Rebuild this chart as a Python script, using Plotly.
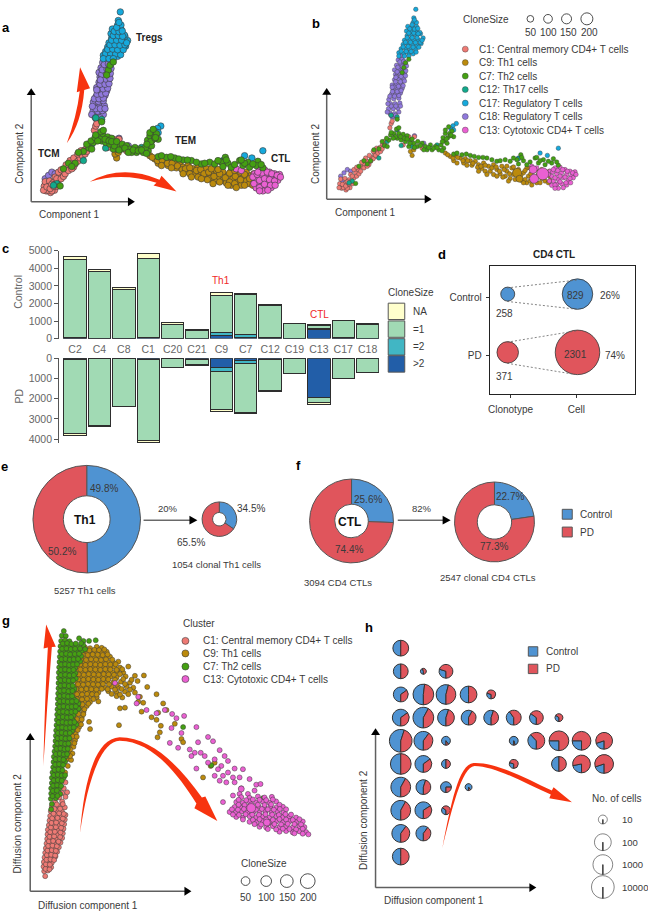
import plotly.graph_objects as go

W, H = 648, 917
FONT = "Liberation Sans"
TXT = "#3a3a3a"
GREY = "#5f5f5f"
COL = dict(C1="#ee7a74", C9="#bb8a0c", C7="#44a012", C12="#12a98c", C17="#16a9dc", C18="#9079dc", C13="#ea60d2")
CTRL, PD = "#4f93d2", "#e0555c"

# ---------- panels a / b : trajectory cells ----------
TRAJ_C1 = [(127,548),(133,562),(146,567),(158,560),(130,534),(141,548),(152,552),(166,548),(143,532),(155,536),(170,530),(160,520),(175,515),(183,505),(170,505),(192,497),(200,488),(208,480),(193,483),(215,490),(222,468),(232,458),(220,480),(240,448),(248,438),(256,428),(238,465),(262,420),(278,378),(282,365),(335,405),(352,405),(318,430),(375,440),(285,358),(138,560),(125,560),(150,562),
 (135,550),(145,555),(155,548),(162,540),(150,542),(165,525),(178,525),(185,518),(178,498),(190,510),(200,500),(210,495),(205,470),(216,462),(228,472),(235,462),(228,450),(242,455),(250,450),(238,440),(255,442),(262,430)]
TRAJ_C18 = [(130,525),(140,515),(150,505),(160,510),(135,538),(285,345),(298,348),(278,333),(292,335),(305,330),(274,320),(288,320),(302,318),(280,305),(294,305),(308,303),(275,292),(290,290),(305,288),(283,276),(297,275),(310,272),(288,262),(302,260),(315,258),(285,248),(298,246),(312,244),(292,232),(306,230),(319,228),(295,216),(309,214),(322,212),(292,202),(306,200),(320,198),(298,188),(312,186),(325,182),(303,172),(315,170),(310,158),(352,402),(380,425),
 (270,330),(282,312),(296,312),(310,312),(272,305),(278,282),(292,282),(305,280),(286,268),(300,268),(312,265),(290,254),(304,252),(318,250),(295,238),(310,238),(322,236),(298,222),(312,222),(325,220),(300,208),(314,206),(326,205),(302,194),(316,192),(328,190),(308,178),(320,176),(296,225),(285,255),(281,340),(295,340)]
TRAJ_C17 = [(305,150),(320,152),(335,150),(348,153),(312,138),(326,138),(340,140),(355,140),(318,125),(332,124),(346,126),(360,128),(372,122),(322,112),(336,110),(350,112),(364,112),(378,105),(330,98),(344,96),(358,98),(370,92),(328,84),(342,84),(356,84),(368,88),(332,70),(346,72),(358,70),(348,58),(358,58),(350,44),(356,18),(478,365),(468,372),(462,382),(470,385),(730,455),(785,440),(752,462),(665,470),
 (312,145),(327,146),(342,146),(357,148),(318,132),(333,131),(348,133),(365,133),(325,118),(340,118),(355,119),(370,118),(330,104),(345,104),(360,104),(375,112),(335,90),(350,90),(363,92),(338,77),(352,78),(362,76),(345,65),(352,50),(305,160),(322,160),(335,160)]
TRAJ_C9 = [(345,462),(340,450),(350,445),(445,455),(460,465),(475,462),(470,478),(490,470),(505,472),(500,485),(520,478),(535,480),(525,492),(545,490),(560,485),(555,502),(575,495),(590,490),(580,510),(600,505),(615,495),(610,518),(630,510),(645,500),(625,525),(650,520),(665,505),(640,532),(665,530),(680,515),(690,500),(675,538),(695,525),(710,510),(690,545),(710,535),(725,520),(735,505),(720,545),(735,532),(750,515),(745,540),(760,525),(755,545),
 (452,460),(468,470),(482,468),(480,485),(498,478),(512,478),(510,492),(528,486),(542,498),(552,495),(565,492),(565,510),(585,500),(598,497),(590,520),(608,510),(622,505),(618,528),(638,518),(655,510),(635,540),(655,535),(672,522),(685,508),(685,535),(702,518),(718,505),(700,540),(718,528),(730,512),(730,545),(745,525),(758,510),(760,538),(705,552),(680,545),(600,525),(570,520),(545,510),(700,500),(650,497),(630,495)]
TRAJ_C13 = [(705,495),(720,500),(760,510),(775,500),(790,498),(805,505),(820,510),(835,512),(765,525),(780,518),(795,515),(810,520),(825,525),(770,540),(785,535),(800,530),(815,538),(830,530),(765,553),(780,550),(795,548),(810,552),(785,562),
 (755,520),(768,512),(783,508),(798,505),(812,510),(828,515),(758,540),(775,530),(790,525),(805,528),(820,532),(838,520),(775,552),(790,542),(808,545),(822,545),(775,562),(800,560),(770,505)]
TRAJ_C12 = [(300,345),(282,340),(300,385),(312,432),(325,410),(345,435),(295,405),(420,430),(165,540),(155,545),(270,420),(665,472),(245,470)]
TRAJ_C7 = [(290,395),(305,395),(318,398),(330,402),(300,410),(312,415),(325,420),(340,415),(350,425),(362,420),(375,425),(385,435),(400,430),(415,435),(425,445),(405,445),(390,445),(360,435),(335,435),(440,440),(432,430),(442,418),(450,425),(438,408),(452,408),(445,395),(458,395),(465,388),(470,405),(470,458),(495,460),(520,462),(545,468),(570,470),(600,480),(625,475),(640,480),(660,475),(672,460),(680,478),(690,490),(715,470),(725,485),(740,475),(745,490),(770,472),(765,485),(785,492),(175,547),(200,478),(220,478),(245,442),(262,432),(275,415),(320,195),(325,180),(335,170),(315,210),(300,352),
 (480,455),(508,458),(532,465),(558,468),(585,475),(610,478),(650,470),(700,482),(730,478),(755,480),(780,482),(665,488),(675,468),(720,468),(295,405),(310,405),(322,410),(338,425),(352,438),(370,432),(380,445),(395,438),(410,440),(420,438),(435,448),(330,412),(345,412),(448,412),(460,402),(436,420),(445,385),(455,375),(462,400),(185,495),(210,488),(230,445),(255,420),(268,410),(280,400),(288,410),(282,392),(270,435),(298,382),(305,378)]
# clone-expanded cells seen only in panel b
B_BIG_C13 = [(738,518),(712,533),(709,505)]
B_BIG_C9 = [(661,515),(668,533)]
B_BIG_C13_SIZE = [12,9,8]
B_BIG_C9_SIZE = [9,7]

# ---------- panel c ----------
CATS = ["C2","C4","C8","C1","C20","C21","C9","C7","C12","C19","C13","C17","C18"]
CTRL_GT2 = [30,10,10,40,10,5,150,80,30,5,500,30,5]
CTRL_EQ2 = [30,10,10,40,10,5,200,170,50,5,80,30,5]
CTRL_EQ1 = [4460,3780,2760,4470,810,450,2130,2260,1800,850,180,950,820]
CTRL_NA = [160,120,100,280,70,40,140,70,40,20,40,20,30]
PD_GT2 = [20,10,10,40,10,60,450,120,40,5,1940,10,5]
PD_EQ2 = [20,10,10,20,10,10,220,130,20,5,20,10,5]
PD_EQ1 = [3690,3300,2340,4030,410,260,1870,2420,1540,720,240,970,700]
PD_NA = [70,40,20,70,10,10,90,40,20,10,100,10,10]

# ---------- panel d ----------
D_GROUP = ["Control","PD"]
D_CLONOTYPE = [258,371]
D_CELL = [829,2301]
D_PCT = ["26%","74%"]

# ---------- panels e / f ----------
E_ALL = [49.8,50.2]
E_CLONAL = [34.5,65.5]
F_ALL = [25.6,74.4]
F_CLONAL = [22.7,77.3]

# ---------- panel g ----------
DIFF_C1 = [(130,815),(127,800),(138,798),(125,786),(136,784),(148,788),(126,772),(139,770),(150,774),(128,758),(141,756),(152,760),(161,755),(130,744),(142,742),(155,746),(166,741),(132,730),(145,728),(157,732),(171,727),(134,716),(147,714),(159,718),(176,713),(136,702),(149,700),(163,704),(181,699),(137,688),(151,686),(166,690),(183,685),(138,674),(153,672),(169,676),(185,671),(141,660),(156,658),(171,662),(187,657),(143,646),(158,644),(173,648),(189,643),(145,632),(161,630),(176,634),(191,629),(147,618),(166,616),(181,620),(150,604),(171,602),(189,606),(160,590),(181,588),(172,576),(191,574),(181,562),(196,560),(186,548),(191,530),
 (131,793),(143,794),(132,779),(144,780),(134,765),(146,764),(157,766),(135,751),(148,750),(160,752),(137,737),(150,736),(162,738),(139,723),(152,722),(165,724),(141,709),(154,708),(170,710),(143,695),(157,694),(175,696),(145,681),(159,680),(176,682),(147,667),(162,666),(178,668),(149,653),(163,652),(180,654),(151,639),(167,638),(183,640),(155,625),(172,624),(186,626),(158,611),(175,610),(165,597),(183,596)]
DIFF_C9 = [(250,120),(265,122),(285,118),(300,121),(240,135),(255,133),(270,137),(285,134),(300,136),(315,133),(235,150),(250,152),(265,148),(280,151),(295,149),(310,152),(325,148),(228,165),(243,167),(258,163),(273,166),(288,164),(303,167),(318,163),(335,166),(350,163),(232,180),(247,178),(262,182),(277,179),(292,181),(307,178),(322,182),(338,179),(355,181),(380,178),(228,195),(243,197),(258,193),(273,196),(288,194),(303,197),(318,193),(333,196),(348,194),(365,197),(222,210),(237,208),(252,212),(267,209),(282,211),(297,208),(312,212),(327,209),(345,211),(372,208),(400,206),(427,205),(226,225),(241,227),(256,223),(271,226),(286,224),(301,227),(316,223),(335,226),(358,224),(385,227),(408,222),(220,240),(235,238),(250,242),(265,239),(280,241),(295,238),(310,242),(330,239),(350,241),(375,238),(395,242),(437,240),(215,255),(230,257),(245,253),(260,256),(275,254),(290,257),(320,253),(345,256),(370,254),(400,257),(222,270),(237,268),(252,272),(267,269),(285,271),(345,268),(362,272),(415,270),(465,262),(218,285),(233,287),(248,283),(265,286),(290,284),(410,285),(425,288),(485,290),(222,300),(238,302),(255,298),(355,305),(370,303),(228,315),(245,317),(420,315),(470,318),(495,310),(222,330),(240,332),(450,332),(465,340),(218,345),(235,347),(262,346),(478,358),(215,360),(232,362),(265,368),(352,356),(520,352),(208,380),(222,382),(475,378),(468,393),(205,400),(220,402),(540,398),(545,408),(200,420),(215,422),(202,440),(212,442),(195,460),(208,462),(198,480),(190,500),(605,515),(628,480),(640,470),
 (248,128),(263,129),(278,127),(292,128),(308,126),(243,142),(258,143),(273,141),(288,142),(303,143),(318,141),(238,157),(253,158),(268,156),(283,157),(298,158),(313,156),(332,157),(236,172),(251,173),(266,171),(281,172),(296,173),(311,171),(326,172),(342,171),(236,187),(251,188),(266,186),(281,187),(296,188),(311,186),(326,187),(345,188),(362,186),(231,202),(246,203),(261,201),(276,202),(291,203),(306,201),(321,202),(337,203),(355,201),(230,217),(245,218),(260,216),(275,217),(290,218),(305,216),(320,217),(340,218),(365,216),(390,218),(229,232),(244,233),(259,231),(274,232),(289,233),(304,231),(322,232),(345,233),(370,231),(224,247),(239,248),(254,246),(269,247),(284,248),(300,246),(318,247),(340,248),(360,246),(385,248),(226,262),(241,263),(256,261),(271,262),(285,263),(330,261),(355,263),(380,262),(226,277),(241,278),(256,276),(275,277),(226,292),(242,293),(260,291),(232,307),(248,308),(230,322),(245,323),(226,338),(240,339),(222,353),(238,354),(215,370),(228,371),(212,390),(225,391),(205,410),(218,411),(205,430),(205,450)]
DIFF_C7 = [(186,70),(180,84),(192,85),(178,100),(190,98),(203,101),(232,92),(245,100),(262,100),(282,98),(176,116),(188,114),(200,117),(214,115),(228,118),(245,113),(175,132),(187,130),(199,133),(212,131),(226,134),(240,130),(174,148),(186,146),(198,149),(211,147),(224,150),(238,146),(173,164),(185,162),(197,165),(210,163),(222,166),(235,162),(172,180),(184,178),(196,181),(208,179),(220,182),(171,196),(183,194),(196,197),(209,195),(221,198),(171,212),(184,210),(197,213),(210,211),(222,214),(170,228),(183,226),(195,229),(208,227),(170,244),(182,242),(195,245),(208,243),(218,246),(169,260),(181,258),(194,261),(206,259),(168,276),(180,274),(193,277),(205,275),(217,278),(168,292),(180,290),(192,293),(205,291),(218,294),(230,290),(167,308),(179,306),(191,309),(204,307),(216,310),(230,306),(166,324),(178,322),(190,325),(203,323),(215,326),(165,340),(177,338),(190,341),(202,339),(214,342),(164,356),(176,354),(188,357),(200,355),(212,358),(224,354),(163,372),(175,370),(187,373),(199,371),(211,374),(162,388),(174,386),(186,389),(198,387),(161,404),(173,402),(185,405),(197,403),(160,420),(172,418),(184,421),(196,419),(158,436),(170,434),(182,437),(194,435),(156,452),(168,450),(180,453),(192,451),(155,468),(167,466),(179,469),(190,467),(154,484),(166,482),(178,485),(152,500),(164,498),(176,501),(150,516),(162,514),(174,517),(186,515),(150,532),(162,530),(174,533),(148,548),(160,546),(172,549),(148,564),(158,562),(175,565),(147,580),(162,578),(150,596),(148,612),(785,578),(545,362),(630,478),
 (183,108),(196,107),(209,109),(222,108),(238,107),(181,124),(194,123),(207,125),(220,124),(235,123),(250,125),(180,140),(193,139),(205,141),(219,140),(232,139),(179,156),(191,155),(204,157),(216,156),(229,155),(178,172),(190,171),(202,173),(214,172),(226,171),(177,188),(190,187),(202,189),(215,188),(177,204),(190,203),(203,205),(216,204),(176,220),(189,219),(201,221),(214,220),(176,236),(188,235),(201,237),(213,236),(175,252),(187,251),(200,253),(212,252),(174,268),(187,267),(199,269),(211,268),(174,284),(186,283),(198,285),(211,284),(224,283),(173,300),(185,299),(198,301),(210,300),(222,299),(172,316),(184,315),(196,317),(209,316),(221,315),(171,332),(183,331),(196,333),(208,332),(170,348),(182,347),(194,349),(206,348),(218,347),(169,364),(181,363),(193,365),(205,364),(216,363),(168,380),(180,379),(192,381),(204,380),(167,396),(179,395),(191,397),(203,396),(166,412),(178,411),(190,413),(200,412),(164,428),(176,427),(188,429),(198,428),(162,444),(174,443),(186,445),(196,444),(161,460),(173,459),(185,461),(160,476),(172,475),(184,477),(158,492),(170,491),(182,493),(156,508),(168,507),(180,509),(190,508),(156,524),(168,523),(180,525),(154,540),(166,539),(178,541),(153,556),(165,555),(152,572),(167,571)]
DIFF_C13 = [(340,228),(410,270),(405,290),(435,310),(490,310),(465,320),(512,322),(525,335),(548,328),(510,365),(540,380),(585,362),(505,410),(530,425),(590,408),(620,392),(635,405),(565,430),(580,440),(598,440),(610,450),(655,432),(640,460),(670,450),(570,450),(585,488),(620,470),(660,480),(680,465),(700,488),(725,490),(650,490),(680,500),(665,510),(695,515),(715,515),(640,510),(655,525),(675,530),(700,530),(720,548),(745,520),(765,537),(778,535),(760,555),(740,565),(665,590),(695,570),(715,565),(720,575),(745,577),(770,573),(790,576),(812,574),(705,590),(725,592),(745,588),(765,591),(785,589),(805,592),(825,588),(700,605),(718,607),(736,603),(754,606),(772,604),(790,607),(808,603),(826,606),(845,604),(685,620),(703,622),(721,618),(739,621),(757,619),(775,622),(793,618),(811,621),(829,619),(847,622),(705,635),(725,637),(745,633),(765,636),(785,634),(805,637),(825,633),(845,636),(865,634),(885,637),(745,650),(765,652),(785,648),(805,651),(825,649),(845,652),(865,648),(885,651),(905,649),(775,665),(795,667),(815,663),(835,666),(855,664),(875,667),(895,663),(910,666),(835,680),(855,678),(875,682),(895,679),(915,681),(922,688),
 (712,583),(735,584),(755,582),(775,583),(795,584),(815,582),(712,598),(730,599),(750,597),(770,598),(790,599),(810,597),(835,598),(692,612),(710,613),(728,611),(746,612),(764,613),(782,611),(800,612),(818,613),(836,611),(855,612),(695,628),(713,629),(733,627),(753,628),(773,629),(793,627),(813,628),(833,629),(853,627),(870,628),(725,643),(755,644),(775,642),(795,643),(815,644),(835,642),(855,643),(875,644),(895,642),(760,657),(780,658),(800,656),(820,657),(840,658),(860,656),(880,657),(900,658),(800,672),(825,673),(845,671),(865,672),(885,673),(905,671),(880,685),(905,686)]
DIFF_C13_BIG = [(750,608),(797,652),(720,550)]
DIFF_C13_BIG_SIZE = [9,7,6]

# ---------- panel h : bins on a grid (column, row, share of control cells) ----------
H_COL = [0, 0,1,2, 0,1,2,3,4, 0,1,2,3,4,5,6,7, 0,1,2,5,6,7,8,9, 0,1,2,5,7,8,9, 0,1,2,3, 0,1,2, 0,1, 0]
H_ROW = [0, 1,1,1, 2,2,2,2,2, 3,3,3,3,3,3,3,3, 4,4,4,4,4,4,4,4, 5,5,5,5,5,5,5, 6,6,6,6, 7,7,7, 8,8, 9]
H_CONTROL = [.5, .5,.45,.3, .65,.52,.54,.5,.3, .65,.58,.55,.58,.55,.4,.35,.35, .55,.6,.9,.95,.38,.25,.25,.2, .5,.65,.5,.3,.5,.22,.2, .58,.55,.75,.9, .58,.66,.35, .6,.6, .5]
H_DIAM = [16, 15,6,14, 15,21,20,17,9, 17,21,17,15,15,15,14,8, 23,19,9,9,17,20,19,17, 21,17,9,9,15,18,19, 20,15,11,7, 20,17,9, 18,15, 17]
H_SIZE_LABELS = ["10","100","1000","10000"]

# ---------- helpers ----------
def X(p): return p / W
def Y(p): return 1 - p / H

traces, shapes, notes, axes = [], [], [], {}

def add_axes(n, rect, xr, yr):
    l, t, r, b = rect
    axes[f"xaxis{n}"] = dict(domain=[X(l), X(r)], range=xr, visible=False, anchor=f"y{n}", fixedrange=True)
    axes[f"yaxis{n}"] = dict(domain=[Y(b), Y(t)], range=yr, visible=False, anchor=f"x{n}", fixedrange=True)

def T(x, y, s, size=10, color=TXT, bold=False, anchor="center", angle=0):
    notes.append(dict(x=X(x), y=Y(y), xref="paper", yref="paper", text=f"<b>{s}</b>" if bold else s, showarrow=False,
                      xanchor=anchor, yanchor="middle", textangle=angle, font=dict(family=FONT, size=size, color=color)))

def poly(path_pts, fill):
    shapes.append(dict(type="path", xref="paper", yref="paper", path=path_pts, fillcolor=fill, line=dict(color="rgba(0,0,0,0)", width=0), layer="above"))

def P(*coords):
    out = []
    for c in coords:
        if isinstance(c, str):
            out.append(c)
        else:
            out.append(f"{X(c[0]):.5f},{Y(c[1]):.5f}")
    return " ".join(out)

def line(x0, y0, x1, y1, color=GREY, width=1.5, dash=None):
    shapes.append(dict(type="line", xref="paper", yref="paper", x0=X(x0), y0=Y(y0), x1=X(x1), y1=Y(y1),
                       line=dict(color=color, width=width, dash=dash or "solid"), layer="above"))

def arrow_axes(ox, oy, tipx, tipy):
    line(ox, oy, ox, tipy + 5)
    line(ox, oy, tipx - 5, oy)
    poly(P("M", (ox, tipy), "L", (ox - 4.5, tipy + 7), "L", (ox + 4.5, tipy + 7), "Z"), "#000")
    poly(P("M", (tipx, oy), "L", (tipx - 7, oy - 4.5), "L", (tipx - 7, oy + 4.5), "Z"), "#000")

def scatter(points, n, color, size, lw=0.6):
    traces.append(go.Scatter(x=[p[0] for p in points], y=[p[1] for p in points], mode="markers", xaxis=f"x{n}", yaxis=f"y{n}",
                             marker=dict(color=color, size=size, opacity=1, line=dict(color="#3a3a3a", width=lw)),
                             showlegend=False, hoverinfo="skip"))

def pie(cx, cy, d, values, rot=0, hole=0, colors=(CTRL, PD), lw=1, lc="#333"):
    traces.append(go.Pie(values=values, sort=False, direction="clockwise", rotation=rot, hole=hole, textinfo="none",
                         marker=dict(colors=list(colors), line=dict(color=lc, width=lw)), showlegend=False, hoverinfo="skip",
                         domain=dict(x=[X(cx - d / 2), X(cx + d / 2)], y=[Y(cy + d / 2), Y(cy - d / 2)])))

def square(cx, cy, s, fill):
    shapes.append(dict(type="rect", xref="paper", yref="paper", x0=X(cx - s / 2), x1=X(cx + s / 2), y0=Y(cy + s / 2), y1=Y(cy - s / 2),
                       fillcolor=fill, line=dict(color="#555", width=1), layer="above"))

# overlay axis for legend keys
add_axes(9, (0, 0, W, H), [0, W], [H, 0])

# ---------- panel a ----------
add_axes(1, (0, 0, 324, 230), [0, 972], [690, 0])
ORDER = [(TRAJ_C18, "C18"), (TRAJ_C17, "C17"), (TRAJ_C1, "C1"), (TRAJ_C9, "C9"), (TRAJ_C13, "C13"), (TRAJ_C12, "C12"), (TRAJ_C7, "C7")]
for pts, k in ORDER:
    scatter(pts, 1, COL[k], 6.5)
arrow_axes(29.3, 198.3, 133.3, 83.3)
T(67.7, 211.7, "Component 1", 10)
T(16.7, 150, "Component 2", 10, angle=-90)
T(147.7, 32.3, "Tregs", 10, "#222", True)
T(183.7, 136, "TEM", 10, "#222", True)
T(279, 154.3, "CTL", 10, "#222", True)
T(47, 149, "TCM", 10, "#222", True)
RED = "#f7330f"
poly(P("M", (65, 139), "Q", (75, 112), (78, 86.5), "L", (75, 87.3), "L", (78.3, 62), "L", (88.3, 83.3), "L", (82.5, 85), "Q", (80, 118), (65, 139), "Z"), RED)
poly(P("M", (88, 178), "Q", (120, 160), (158, 176), "L", (160, 172), "L", (175, 188), "L", (152, 182), "L", (155, 179), "Q", (120, 168), (88, 178), "Z"), RED)

# ---------- panel b ----------
BL, BR, BT, BB = 296.0, 648.0, 0.0, 230.0
add_axes(2, (BL, BT, BR, BB), [(BL - 296.4) * 3, (BR - 296.4) * 3], [(BB + 2.6) * 3, (BT + 2.6) * 3])
for pts, k in ORDER:
    scatter(pts, 2, COL[k], 4.5, 0.4)
scatter(B_BIG_C9, 2, COL["C9"], B_BIG_C9_SIZE, 0.5)
scatter(B_BIG_C13, 2, COL["C13"], B_BIG_C13_SIZE, 0.5)
arrow_axes(325.7, 195.7, 431, 83)
T(364, 209.3, "Component 1", 10)
T(314, 150, "Component 2", 10, angle=-90)
T(485.7, 13.3, "CloneSize", 10)
scatter([(530, 13), (547.7, 13), (566.3, 13), (586.7, 13)], 9, "#fff", [6.7, 8.7, 10, 12], 0.9)
for x, s in zip([530.3, 548, 568, 589], ["50", "100", "150", "200"]):
    T(x, 26.7, s, 10)
B_LEG = [("C1", "C1: Central memory CD4+ T cells"), ("C9", "C9: Th1 cells"), ("C7", "C7: Th2 cells"), ("C12", "C12: Th17 cells"),
         ("C17", "C17: Regulatory T cells"), ("C18", "C18: Regulatory T cells"), ("C13", "C13: Cytotoxic CD4+ T cells")]
for i, (k, s) in enumerate(B_LEG):
    yy = 43.7 + i * 13.67
    scatter([(464.7, yy)], 9, COL[k], 6, 0.4)
    T(476.7, yy, s, 10, anchor="left")

# ---------- panel c ----------
STACK = [("#225ea8", "gt2"), ("#41b6c4", "eq2"), ("#a1dab4", "eq1"), ("#ffffcc", "na")]
CTRL_S = [CTRL_GT2, CTRL_EQ2, CTRL_EQ1, CTRL_NA]
PD_S = [PD_GT2, PD_EQ2, PD_EQ1, PD_NA]
for (c, _), v1, v2 in zip(STACK, CTRL_S, PD_S):
    traces.append(go.Bar(x=CATS, y=v1, marker=dict(color=c, line=dict(color="#2e2e2e", width=1)), width=0.92, xaxis="x3", yaxis="y3", showlegend=False, hoverinfo="skip"))
    traces.append(go.Bar(x=CATS, y=v2, marker=dict(color=c, line=dict(color="#2e2e2e", width=1)), width=0.92, xaxis="x4", yaxis="y4", showlegend=False, hoverinfo="skip"))
tick_font = dict(family=FONT, size=10.5, color="#666")
axes["xaxis3"] = dict(domain=[X(57.3), X(378)], range=[-0.655, 12.46], type="category", categoryorder="array", categoryarray=CATS, anchor="y3",
                      showline=False, ticks="", tickfont=tick_font, ticklabelstandoff=3, fixedrange=True, showgrid=False, zeroline=False)
axes["yaxis3"] = dict(domain=[Y(337), Y(248)], range=[0, 5000], anchor="x3", tickvals=[0, 1000, 2000, 3000, 4000, 5000], tickfont=tick_font,
                      showline=True, linecolor="#555", ticks="outside", ticklen=4, tickcolor="#555", showgrid=False, zeroline=False, fixedrange=True)
axes["xaxis4"] = dict(domain=[X(57.3), X(378)], range=[-0.655, 12.46], type="category", categoryorder="array", categoryarray=CATS, anchor="y4",
                      visible=False, fixedrange=True)
axes["yaxis4"] = dict(domain=[Y(443), Y(357)], range=[4200, 0], anchor="x4", tickvals=[0, 1000, 2000, 3000, 4000], tickfont=tick_font,
                      showline=True, linecolor="#555", ticks="outside", ticklen=4, tickcolor="#555", showgrid=False, zeroline=False, fixedrange=True)
T(16.7, 290, "Control", 10.5, "#666", angle=-90)
T(16.7, 395, "PD", 10.5, "#666", angle=-90)
T(220, 278.3, "Th1", 10, "#f02828")
T(318.3, 312.3, "CTL", 10, "#f02828")
T(410, 290, "CloneSize", 10)
for yy, fill, s in [(309.4, "#ffffcc", "NA"), (327.4, "#a1dab4", "=1"), (345.4, "#41b6c4", "=2"), (362.7, "#225ea8", ">2")]:
    square(395.7, yy, 16.6, fill)
    T(410.7, yy, s, 10, anchor="left")

# ---------- panel d ----------
axes["xaxis5"] = dict(domain=[X(489.3), X(635.3)], range=[-0.257, 1.829], anchor="y5", tickvals=[0.04, 0.985], ticktext=["Clonotype", "Cell"],
                      ticks="outside", ticklen=3, tickcolor="#333", showline=True, mirror=True, linecolor="#222", linewidth=1.2,
                      showgrid=False, zeroline=False, tickfont=dict(family=FONT, size=10, color=TXT), fixedrange=True, ticklabelstandoff=3)
axes["yaxis5"] = dict(domain=[Y(393), Y(263)], range=[-0.712, 1.49], anchor="x5", tickvals=[0.95, -0.05], ticktext=D_GROUP,
                      ticks="outside", ticklen=3, tickcolor="#333", showline=True, mirror=True, linecolor="#222", linewidth=1.2,
                      showgrid=False, zeroline=False, tickfont=dict(family=FONT, size=10, color=TXT), fixedrange=True, ticklabelstandoff=2)
D_Y = [1, 0]
D_COLORS = [CTRL, PD]
traces.append(go.Scatter(x=[0, 0], y=D_Y, mode="markers", xaxis="x5", yaxis="y5", showlegend=False, hoverinfo="skip",
                         marker=dict(size=[14, 21.5], opacity=1, color=D_COLORS, line=dict(color="#333", width=0.8))))
traces.append(go.Scatter(x=[1, 1], y=D_Y, mode="markers", xaxis="x5", yaxis="y5", showlegend=False, hoverinfo="skip",
                         marker=dict(size=[30.5, 44.5], opacity=1, color=D_COLORS, line=dict(color="#333", width=0.8))))
for a, b in [((230, 167), (441, 143)), ((230, 208), (441, 232)), ((230, 332), (441, 297)), ((230, 396), (441, 431))]:
    line(a[0] / 3 + 430, a[1] / 3 + 230, b[0] / 3 + 430, b[1] / 3 + 230, "#666", 0.8, "2px,2px")
T(553.7, 252, "CD4 CTL", 10, "#222", True)
T(504.5, 311.7, str(D_CLONOTYPE[0]), 10)
T(504.5, 375.7, str(D_CLONOTYPE[1]), 10)
T(575.7, 293.3, str(D_CELL[0]), 10)
T(575, 352.7, str(D_CELL[1]), 10)
T(609.7, 293.3, D_PCT[0], 10)
T(615.3, 353.7, D_PCT[1], 10)

# ---------- panels e / f ----------
pie(85, 520, 109, E_ALL, hole=0.435, lw=1, lc="#555")
pie(218, 520, 35, E_CLONAL, hole=0.39, lw=1, lc="#555")
pie(350.6, 521.8, 85, F_ALL, hole=0.40, lw=1, lc="#555")
pie(494, 522.8, 81, F_CLONAL, hole=0.43, lw=1, lc="#555")
T(102, 489, f"{E_ALL[0]}%", 10)
T(60, 553, f"{E_ALL[1]}%", 10)
T(83, 521, "Th1", 12, "#111", True)
T(83, 592, "5257 Th1 cells", 9.5)
T(167, 509, "20%", 9.5)
T(250, 509, f"{E_CLONAL[0]}%", 10)
T(190, 544, f"{E_CLONAL[1]}%", 10)
T(215, 566, "1054 clonal Th1 cells", 9.5)
T(367, 500, f"{F_ALL[0]}%", 10)
T(348, 551, f"{F_ALL[1]}%", 10)
T(349, 523, "CTL", 12, "#111", True)
T(337.5, 584, "3094 CD4 CTLs", 9.5)
T(421, 509, "82%", 9.5)
T(510, 497, f"{F_CLONAL[0]}%", 10)
T(494, 548, f"{F_CLONAL[1]}%", 10)
T(488, 579, "2547 clonal CD4 CTLs", 9.5)
for x0, x1 in [(142, 196), (397, 450)]:
    line(x0, 521, x1 - 5, 521, "#222", 1)
    poly(P("M", (x1, 521), "L", (x1 - 8, 516.5), "L", (x1 - 8, 525.5), "Z"), "#000")
square(567, 515, 10, CTRL)
square(567, 533, 10, PD)
T(578, 515, "Control", 10, anchor="left")
T(578, 533, "PD", 10, anchor="left")

# ---------- panel g ----------
add_axes(6, (0, 610, 340, 917), [0, 1020], [921, 0])
scatter(DIFF_C1, 6, COL["C1"], 5, 0.5)
scatter(DIFF_C9, 6, COL["C9"], 5, 0.5)
scatter(DIFF_C7, 6, COL["C7"], 5, 0.5)
scatter(DIFF_C13, 6, COL["C13"], 5, 0.5)
scatter(DIFF_C13_BIG, 6, COL["C13"], DIFF_C13_BIG_SIZE, 0.5)
arrow_axes(28.3, 897, 190, 736.7)
T(86.7, 911, "Diffusion component 1", 10)
T(15.5, 828, "Diffusion component 2", 10, angle=-90)
T(180, 626, "Cluster", 10, anchor="left")
for i, (k, s) in enumerate([("C1", "C1: Central memory CD4+ T cells"), ("C9", "C9: Th1 cells"), ("C7", "C7: Th2 cells"), ("C13", "C13: Cytotoxic CD4+ T cells")]):
    yy = [643.3, 656, 669.3, 682][i]
    scatter([(184, yy)], 9, COL[k], 7, 0.6)
    T(199.3, yy, s, 10, anchor="left")
T(263, 869, "CloneSize", 10)
scatter([(244.3, 886.7), (265, 886.7), (285.7, 886.7), (306.7, 886.7)], 9, "#fff", [8.7, 10.7, 12.7, 14.7], 0.9)
for x, s in zip([244.3, 265, 286.7, 307.7], ["50", "100", "150", "200"]):
    T(x, 903.3, s, 10)
poly(P("M", (41.5, 770), "Q", (43, 700), (46, 650), "L", (41.7, 651), "L", (44.3, 626.7), "L", (54, 649.3), "L", (50, 649.5), "Q", (45, 710), (41.5, 770), "Z"), RED)
poly(P("M", (78.3, 838), "C", (82, 790), (92, 742), (118, 741), "C", (150, 741), (178, 770), (200.5, 802), "L", (204, 801), "L", (216, 825.7), "L", (193, 813), "L", (195, 808),
       "C", (175, 776), (150, 745), (118, 744.5), "C", (98, 745), (85, 790), (78.3, 838), "Z"), RED)

# ---------- panel h ----------
for c, r, share, d in zip(H_COL, H_ROW, H_CONTROL, H_DIAM):
    cx = 340 + (180 + 68 * c) / 3
    cy = 610 + (122 + 70.4 * r) / 3
    pie(cx, cy, d, [share, 1 - share], rot=180, lw=1, lc="#333")
for lab, cy, d in zip(H_SIZE_LABELS, [824.3, 847.3, 870, 892.7], [9, 17, 20, 23]):
    pie(602.7, cy, d, [9999, 1], rot=180, colors=("#fff", "#fff"), lw=0.6)
    T(620, cy, lab, 9.5, anchor="left")
T(616.5, 803.5, "No. of cells", 10)
arrow_axes(374.7, 893.3, 536, 731.7)
T(433, 906, "Diffusion component 1", 10)
T(362, 825, "Diffusion component 2", 10, angle=-90)
square(532.7, 654, 9.5, CTRL)
square(532.7, 671.7, 9.5, PD)
T(543.3, 654, "Control", 10, anchor="left")
T(543.3, 671.7, "PD", 10, anchor="left")
poly(P("M", (441.7, 853.3), "C", (450, 810), (458, 768), (473, 767), "C", (495, 766), (525, 782), (551.5, 795), "L", (553.3, 791.7), "L", (571.7, 806.7), "L", (549, 802.7), "L", (550.5, 799),
       "C", (525, 788), (495, 770), (474, 770), "C", (461, 771), (451, 815), (441.7, 853.3), "Z"), RED)

# ---------- panel letters ----------
for s, x, y in [("a", 4, 21.7), ("b", 315, 18), ("c", 4, 246), ("d", 441.7, 252), ("e", 3, 467), ("f", 297, 466), ("g", 4.3, 623), ("h", 368, 630)]:
    T(x, y, s, 13, "#000", True)

fig = go.Figure(data=traces)
fig.update_layout(width=W, height=H, margin=dict(l=0, r=0, t=0, b=0, pad=0), paper_bgcolor="#fff", plot_bgcolor="rgba(0,0,0,0)",
                  barmode="stack", bargap=0.08, showlegend=False, shapes=shapes, annotations=notes, font=dict(family=FONT), **axes)
fig.write_html("out.html", config=dict(displayModeBar=False, responsive=False), post_script="document.body.style.margin='0';document.body.style.overflow='hidden';")
